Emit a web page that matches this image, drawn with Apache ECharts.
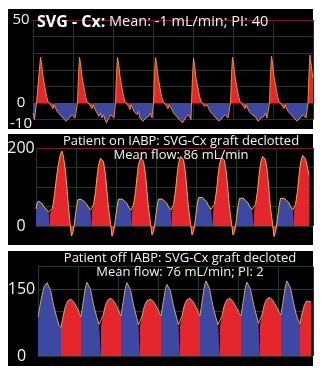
<!DOCTYPE html>
<html>
<head>
<meta charset="utf-8">
<script src="https://cdn.jsdelivr.net/npm/echarts@6/dist/echarts.min.js"></script>
<style>
  html, body { margin: 0; padding: 0; background: #ffffff; }
  #chart { width: 322px; height: 373px; }
</style>
</head>
<body>
<div id="chart"></div>
<script>
// ---- Flow traces (time in s, flow in mL/min) ----

// SVG - Cx graft, native
const cxTime = [
  0.00, 0.03, 0.06,
  0.07, 0.11, 0.15, 0.17, 0.20, 0.24, 0.27, 0.30, 0.34, 0.37, 0.40, 0.42,
  0.45, 0.48, 0.51, 0.54, 0.57, 0.60, 0.63, 0.66, 0.69, 0.72, 0.75, 0.78, 0.81, 0.84, 0.88,
  0.89, 0.91, 0.93, 0.95, 0.98, 1.02, 1.05, 1.08, 1.12, 1.15, 1.18, 1.20,
  1.23, 1.26, 1.29, 1.32, 1.35, 1.38, 1.41, 1.44, 1.47, 1.50, 1.53, 1.56, 1.59, 1.62, 1.64,
  1.65, 1.67, 1.69, 1.71, 1.74, 1.78, 1.81, 1.84, 1.88, 1.91, 1.94, 1.96,
  1.99, 2.02, 2.05, 2.08, 2.11, 2.14, 2.17, 2.20, 2.23, 2.26, 2.29, 2.32, 2.35, 2.38, 2.40,
  2.41, 2.43, 2.45, 2.47, 2.50, 2.54, 2.57, 2.60, 2.64, 2.67, 2.70, 2.72,
  2.75, 2.78, 2.81, 2.84, 2.87, 2.90, 2.93, 2.96, 2.99, 3.02, 3.05, 3.08, 3.11, 3.14, 3.16,
  3.17, 3.19, 3.21, 3.23, 3.26, 3.30, 3.33, 3.36, 3.40, 3.43, 3.46, 3.48,
  3.51, 3.54, 3.57, 3.60, 3.63, 3.66, 3.69, 3.72, 3.75, 3.78, 3.81, 3.84, 3.87, 3.90, 3.94,
  3.95, 3.97, 3.99, 4.01, 4.04, 4.08, 4.11, 4.14, 4.18, 4.21, 4.24, 4.26,
  4.29, 4.32, 4.35, 4.38, 4.41, 4.44, 4.47, 4.50, 4.53, 4.56, 4.59, 4.62, 4.65, 4.68, 4.72,
  4.73, 4.75, 4.77, 4.79, 4.82, 4.86, 4.89, 4.92, 4.96, 4.99, 5.02, 5.04,
  5.07, 5.10, 5.13, 5.16, 5.19, 5.22, 5.25, 5.28, 5.31, 5.34, 5.37, 5.40, 5.43, 5.46, 5.49,
  5.50, 5.52, 5.54, 5.56, 5.58, 5.60
];
const cxFlow = [
  -6, -10, -11,
  0, 14, 27.5, 24, 16, 9, 4, 1, 0, -2, -3.5, -1,
  -2, -5, -4, -7, -6, -9, -8, -11, -12, -9, -10, -7, -6, -9, -10,
  0, 17, 27.5, 24, 16, 9, 4, 1, 0, -2, -3.5, -1,
  -3, -5, -4, -8, -6, -9, -7, -10, -12, -10, -11, -7, -6, -9, -10,
  0, 17, 27.5, 24, 16, 9, 4, 1, 0, -2, -4, -1,
  -2, -5, -5, -7, -5, -9, -8, -11, -12, -9, -10, -8, -6, -9, -10,
  0, 17, 27.5, 24, 16, 9, 4, 1, 0, -2, -3.5, -1,
  -2, -4, -6, -5, -8, -7, -10, -9, -12, -11, -9, -10, -7, -8, -10,
  0, 16, 27, 23, 15, 9, 4, 1, 0, -2, -3, -1,
  -3, -5, -4, -7, -6, -9, -8, -11, -12, -9, -10, -7, -6, -9, -10,
  0, 17, 27.5, 24, 16, 9, 4, 1, 0, -2, -3.5, -1,
  -2, -5, -4, -7, -6, -8, -9, -11, -12, -9, -10, -8, -6, -9, -10,
  0, 18, 28.3, 24, 16, 9, 4, 1, 0, -2, -3.5, -1,
  -2, -5, -4, -7, -6, -9, -8, -11, -12, -9, -10, -7, -6, -9, -10,
  0, 18, 28.9, 24, 19, 15
];
const cxRedOnset = [0.06, 0.88, 1.64, 2.40, 3.16, 3.94, 4.72, 5.49];
const cxBlueOnset = [0.42, 1.20, 1.96, 2.72, 3.48, 4.26, 5.04];
const cxTicks = [50, 0, -10];

// Patient on IABP
const onTime = [
  0.00, 0.02, 0.05, 0.11, 0.18, 0.25, 0.28,
  0.33, 0.37, 0.41, 0.45, 0.49, 0.52, 0.55, 0.59, 0.62, 0.65, 0.68, 0.71, 0.74, 0.76,
  0.81, 0.84, 0.86, 0.91, 0.96, 1.01, 1.04, 1.09, 1.12,
  1.15, 1.19, 1.22, 1.25, 1.29, 1.32, 1.35, 1.39, 1.42, 1.45, 1.49, 1.52, 1.55, 1.57,
  1.62, 1.65, 1.67, 1.72, 1.77, 1.82, 1.85, 1.90, 1.92,
  1.95, 1.99, 2.02, 2.05, 2.09, 2.12, 2.15, 2.19, 2.22, 2.25, 2.29, 2.32, 2.35, 2.37,
  2.42, 2.45, 2.47, 2.52, 2.57, 2.62, 2.65, 2.70, 2.72,
  2.75, 2.79, 2.82, 2.85, 2.89, 2.92, 2.95, 2.99, 3.02, 3.05, 3.09, 3.12, 3.15, 3.17,
  3.22, 3.25, 3.27, 3.32, 3.37, 3.42, 3.45, 3.50, 3.54,
  3.57, 3.61, 3.64, 3.67, 3.71, 3.74, 3.77, 3.81, 3.84, 3.87, 3.91, 3.94, 3.97, 3.99,
  4.04, 4.07, 4.09, 4.14, 4.19, 4.24, 4.27, 4.32, 4.36,
  4.39, 4.43, 4.46, 4.49, 4.53, 4.56, 4.59, 4.63, 4.66, 4.69, 4.73, 4.76, 4.79, 4.81,
  4.86, 4.89, 4.91, 4.96, 5.01, 5.06, 5.09, 5.14, 5.16,
  5.19, 5.23, 5.26, 5.29, 5.33, 5.36, 5.39, 5.43, 5.46
];
const onFlow = [
  44, 58, 64, 59, 46, 36, 31,
  45, 80, 125, 160, 185, 192, 177, 140, 95, 48, 8, -26, -15, 0,
  49, 68, 72, 68, 63, 57, 49, 41, 38,
  54, 88, 126, 156, 174, 179, 165, 131, 88, 45, 7, -26, -15, 0,
  49, 69, 73, 69, 64, 58, 49, 41, 38,
  54, 88, 126, 157, 175, 180, 166, 132, 88, 45, 7, -23, -14, 0,
  49, 69, 73, 69, 64, 58, 49, 41, 38,
  55, 90, 129, 160, 179, 184, 170, 135, 90, 46, 7, -23, -14, 0,
  52, 73, 77, 73, 68, 61, 52, 43, 38,
  55, 90, 128, 158, 177, 182, 168, 133, 89, 45, 7, -23, -14, 0,
  50, 71, 75, 71, 66, 59, 50, 42, 38,
  55, 90, 129, 160, 179, 184, 170, 135, 90, 46, 7, -27, -16, 0,
  50, 71, 75, 71, 66, 59, 50, 42, 38,
  55, 90, 130, 162, 181, 186, 172, 150, 130
];
const onRedOnset = [0.28, 1.12, 1.92, 2.72, 3.54, 4.36, 5.16];
const onBlueOnset = [0.76, 1.57, 2.37, 3.17, 3.99, 4.81];
const onTicks = [200, 0];

// Patient off IABP
const offTime = [
  0.00, 0.06, 0.12, 0.18, 0.25, 0.31, 0.37, 0.42, 0.46,
  0.50, 0.55, 0.60, 0.66, 0.71, 0.75, 0.79, 0.83, 0.86,
  0.91, 0.95, 0.98, 1.05, 1.11, 1.17, 1.22, 1.26,
  1.30, 1.35, 1.40, 1.46, 1.51, 1.55, 1.59, 1.63, 1.66,
  1.71, 1.75, 1.78, 1.85, 1.91, 1.97, 2.01, 2.04,
  2.08, 2.13, 2.18, 2.26, 2.31, 2.35, 2.39, 2.43, 2.46,
  2.51, 2.55, 2.58, 2.65, 2.71, 2.77, 2.81, 2.84,
  2.88, 2.93, 2.98, 3.04, 3.09, 3.13, 3.17, 3.21, 3.24,
  3.29, 3.33, 3.36, 3.43, 3.49, 3.55, 3.60, 3.64,
  3.68, 3.73, 3.78, 3.84, 3.89, 3.93, 3.97, 4.02, 4.06,
  4.11, 4.15, 4.18, 4.25, 4.31, 4.37, 4.41, 4.44,
  4.48, 4.53, 4.58, 4.64, 4.69, 4.73, 4.77, 4.82, 4.86,
  4.91, 4.95, 4.98, 5.05, 5.11, 5.16, 5.21, 5.24,
  5.28, 5.33, 5.37, 5.40, 5.46
];
const offFlow = [
  88, 125, 155, 164, 148, 114, 88, 69, 64,
  88, 112, 124, 127, 121, 114, 106, 94, 88,
  125, 155, 165, 149, 115, 89, 71, 67,
  90, 114, 126, 129, 123, 116, 108, 96, 90,
  126, 155, 164, 148, 114, 88, 70, 66,
  89, 113, 124, 127, 121, 114, 106, 95, 90,
  124, 151, 160, 145, 112, 87, 70, 66,
  90, 115, 126, 129, 123, 116, 108, 96, 90,
  128, 158, 168, 151, 116, 89, 70, 66,
  90, 115, 126, 129, 123, 116, 108, 96, 90,
  126, 156, 165, 149, 116, 90, 73, 69,
  92, 117, 128, 131, 125, 118, 110, 98, 92,
  128, 158, 168, 152, 119, 95, 78, 73,
  95, 115, 123, 125, 121
];
const offRedOnset = [0.46, 1.26, 2.04, 2.84, 3.64, 4.44, 5.24];
const offBlueOnset = [0.86, 1.66, 2.46, 3.24, 4.06, 4.86];
const offTicks = [150, 0];

// ---- styling ----
const FONT = '"Open Sans", "Noto Sans", sans-serif';
const GRID_GREEN = '#1f3a22';
const SCALE_RED = '#74201f';
const FILL_RED = '#e6262d';
const FILL_BLUE = '#3d48a2';

// Split one trace into red/blue phase segments; samples on a phase edge go to both.
function splitPhases(time, flow, redOnset, blueOnset) {
  const red = [], blue = [], all = [];
  for (let i = 0; i < time.length; i++) {
    const t = time[i];
    let lastRed = -Infinity, lastBlue = -Infinity;
    redOnset.forEach(o => { if (o <= t + 1e-9) lastRed = Math.max(lastRed, o); });
    blueOnset.forEach(o => { if (o <= t + 1e-9) lastBlue = Math.max(lastBlue, o); });
    const onEdge = Math.abs(t - lastRed) < 1e-9 || Math.abs(t - lastBlue) < 1e-9;
    const isRed = lastRed > lastBlue;
    red.push([t, (isRed || onEdge) ? flow[i] : null]);
    blue.push([t, (!isRed || onEdge) ? flow[i] : null]);
    all.push([t, flow[i]]);
  }
  return { red, blue, all };
}

const panels = [
  { time: cxTime, flow: cxFlow, red: cxRedOnset, blue: cxBlueOnset, ticks: cxTicks,
    grid: { left: 33, right: 9, top: 20, height: 99.6 }, xMax: 5.6,
    yMin: -10, yMax: 50, yStep: 10, labelSize: 15, labelX: 21,
    splitColors: [GRID_GREEN, GRID_GREEN, GRID_GREEN, GRID_GREEN, GRID_GREEN, GRID_GREEN, SCALE_RED],
    outline: '#ee8a3c', namePad: [0, 0, 0, 0] },
  { time: onTime, flow: onFlow, red: onRedOnset, blue: onBlueOnset, ticks: onTicks,
    grid: { left: 36, right: 9, top: 148, height: 78 }, xMax: 5.54,
    yMin: 0, yMax: 200, yStep: 50, labelSize: 16, labelX: 21,
    splitColors: [GRID_GREEN, GRID_GREEN, GRID_GREEN, GRID_GREEN, SCALE_RED],
    outline: '#f0b04a', namePad: [0, 0, 0, 0] },
  { time: offTime, flow: offFlow, red: offRedOnset, blue: offBlueOnset, ticks: offTicks,
    grid: { left: 38, right: 9, top: 266.6, height: 89.4 }, xMax: 5.5,
    yMin: 0, yMax: 200, yStep: 50, labelSize: 16, labelX: 21.5,
    splitColors: [GRID_GREEN, GRID_GREEN, GRID_GREEN, SCALE_RED, GRID_GREEN],
    outline: '#c9a47a', namePad: [0, 26, 0, 0] }
];

const grids = [], xAxes = [], yAxes = [], series = [];
panels.forEach((p, i) => {
  grids.push(Object.assign({ show: false, containLabel: false, outerBoundsMode: 'none' }, p.grid));
  xAxes.push({
    type: 'value', gridIndex: i, min: 0, max: p.xMax, interval: 0.8,
    axisLine: { show: false }, axisTick: { show: false }, axisLabel: { show: false },
    splitLine: { show: true, lineStyle: { color: GRID_GREEN, width: 1 } }
  });
  yAxes.push({
    type: 'value', gridIndex: i, min: p.yMin, max: p.yMax, interval: p.yStep,
    axisLine: { show: false }, axisTick: { show: false },
    axisLabel: {
      color: '#f2f2f2', fontFamily: FONT, fontSize: p.labelSize,
      align: 'center', margin: p.grid.left - p.labelX,
      // the lowest scale label sits a little under its grid line
      formatter: v => (p.ticks.indexOf(v) < 0 ? '' : (v < 0 ? '{low|' + v + '}' : String(v))),
      rich: {
        low: { color: '#f2f2f2', fontFamily: FONT, fontSize: p.labelSize, padding: [8, 0, 0, 0] }
      }
    },
    splitLine: { show: true, lineStyle: { color: p.splitColors, width: 1 } },
    name: 'Flow\nmL/min', nameLocation: 'middle', nameRotate: 90, nameGap: 2,
    nameTextStyle: { color: '#e8e8e8', fontFamily: FONT, fontSize: 12, lineHeight: 11, padding: p.namePad }
  });
  const seg = splitPhases(p.time, p.flow, p.red, p.blue);
  const base = {
    type: 'line', xAxisIndex: i, yAxisIndex: i, symbol: 'none', showSymbol: false,
    connectNulls: false, clip: false, silent: true, animation: false
  };
  series.push(Object.assign({}, base, {
    name: 'phase A ' + i, data: seg.red, z: 2,
    lineStyle: { width: 0, opacity: 0 }, areaStyle: { color: FILL_RED, opacity: 1 }
  }));
  series.push(Object.assign({}, base, {
    name: 'phase B ' + i, data: seg.blue, z: 2,
    lineStyle: { width: 0, opacity: 0 }, areaStyle: { color: FILL_BLUE, opacity: 1 }
  }));
  series.push(Object.assign({}, base, {
    name: 'trace ' + i, data: seg.all, z: 3,
    lineStyle: { color: p.outline, width: 1 }
  }));
});

const chart = echarts.init(document.getElementById('chart'), null, { renderer: 'canvas' });
chart.setOption({
  animation: false,
  backgroundColor: '#ffffff',
  grid: grids,
  xAxis: xAxes,
  yAxis: yAxes,
  series: series,
  graphic: {
    elements: [
      { type: 'rect', z: -10, shape: { x: 8, y: 9, width: 305, height: 120 }, style: { fill: '#000' } },
      { type: 'rect', z: -10, shape: { x: 8, y: 134, width: 305, height: 111 }, style: { fill: '#000' } },
      { type: 'rect', z: -10, shape: { x: 8, y: 251, width: 305, height: 115 }, style: { fill: '#000' } },
      { type: 'text', z: 100, x: 37, y: 22,
        style: {
          text: '{b|SVG - Cx:}{n| Mean: -1 mL/min; PI: 40}',
          verticalAlign: 'middle', align: 'left',
          rich: {
            b: { fontFamily: FONT, fontSize: 16, fontWeight: 'bold', fill: '#ffffff' },
            n: { fontFamily: FONT, fontSize: 14.5, fontWeight: 'normal', fill: '#f2f2f2' }
          }
        } },
      { type: 'text', z: 100, x: 181, y: 148,
        style: {
          text: 'Patient on IABP: SVG-Cx graft declotted\nMean flow: 86 mL/min',
          align: 'center', verticalAlign: 'middle', lineHeight: 14,
          fontFamily: FONT, fontSize: 13, fill: '#f2f2f2'
        } },
      { type: 'text', z: 100, x: 180, y: 265,
        style: {
          text: 'Patient off IABP: SVG-Cx graft decloted\nMean flow: 76 mL/min; PI: 2',
          align: 'center', verticalAlign: 'middle', lineHeight: 14,
          fontFamily: FONT, fontSize: 13, fill: '#f2f2f2'
        } }
    ]
  }
});
</script>
</body>
</html>
